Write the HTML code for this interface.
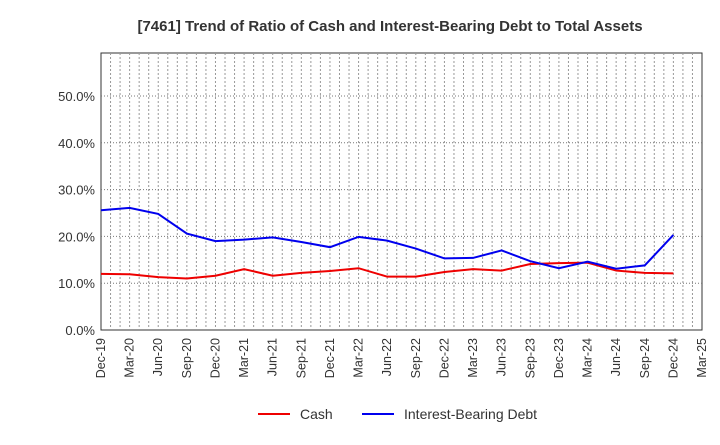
<!DOCTYPE html>
<html><head><meta charset="utf-8"><style>
body{margin:0;background:#fff;font-family:"Liberation Sans",sans-serif;}
</style></head><body>
<svg id="chart" width="720" height="440" xmlns="http://www.w3.org/2000/svg" font-family="Liberation Sans, sans-serif">
<text x="390" y="31" text-anchor="middle" font-size="15" font-weight="bold" fill="#333">[7461]  Trend of Ratio of Cash and Interest-Bearing Debt to Total Assets</text>
<g id="grid"></g><g id="axes"></g><g id="series"></g>
<g>
<line x1="258" y1="414" x2="290" y2="414" stroke="#e00" stroke-width="2"/>
<text x="300" y="419" font-size="14" fill="#333">Cash</text>
<line x1="362" y1="414" x2="394" y2="414" stroke="#00e" stroke-width="2"/>
<text x="404" y="419" font-size="14" fill="#333">Interest-Bearing Debt</text>
</g>
</svg>
<script>
const categories=["Dec-19","Mar-20","Jun-20","Sep-20","Dec-20","Mar-21","Jun-21","Sep-21","Dec-21","Mar-22","Jun-22","Sep-22","Dec-22","Mar-23","Jun-23","Sep-23","Dec-23","Mar-24","Jun-24","Sep-24","Dec-24","Mar-25"];
const cash=[12.0,11.9,11.3,11.0,11.6,13.0,11.6,12.2,12.6,13.2,11.4,11.4,12.4,13.0,12.7,14.1,14.3,14.4,12.7,12.2,12.1];
const debt=[25.6,26.1,24.8,20.6,19.0,19.3,19.8,18.8,17.7,19.9,19.1,17.4,15.3,15.4,17.0,14.7,13.2,14.6,13.1,13.8,20.3];
const yTicks=[0,10,20,30,40,50];
const ns="http://www.w3.org/2000/svg";
const L=101,R=702,T=53,B=330,PX=4.68;
const n=categories.length-1;
const x=i=>L+i*(R-L)/n;
const y=v=>B-v*PX;
function el(t,a,p){const e=document.createElementNS(ns,t);for(const k in a)e.setAttribute(k,a[k]);p.appendChild(e);return e;}
const grid=document.getElementById('grid'),axes=document.getElementById('axes'),series=document.getElementById('series');
el('rect',{x:L,y:T,width:R-L,height:B-T,fill:'#fff',stroke:'#333','stroke-width':1},grid);
for(let m=1;m<n*3;m++){const g=el('line',{x1:x(m/3),x2:x(m/3),y1:T,y2:B,stroke:'#999','stroke-dasharray':'2,2'},grid);
 
 }
categories.forEach((c,i)=>{
 const t=el('text',{x:0,y:0,'font-size':12.5,fill:'#333','text-anchor':'end',transform:`translate(${x(i)+4},${B+8}) rotate(-90)`},axes);
 
 
 t.textContent=c;
});
for(let v=10;v<=50;v+=10){const g=el('line',{x1:L,x2:R,y1:y(v),y2:y(v),stroke:'#777','stroke-dasharray':'1,2'},grid);
 
 }
yTicks.forEach(v=>{const t=el('text',{x:L-6,y:y(v)+5,'font-size':13,fill:'#333','text-anchor':'end'},axes);
 
 
 t.textContent=v.toFixed(1)+'%';});
[[cash,'#e00','cash-line'],[debt,'#00e','debt-line']].forEach(([d,c,nm])=>{
 const p=el('polyline',{points:d.map((v,i)=>x(i)+','+y(v)).join(' '),fill:'none',stroke:c,'stroke-width':2},series);
 
 
});
</script>
</body></html>
